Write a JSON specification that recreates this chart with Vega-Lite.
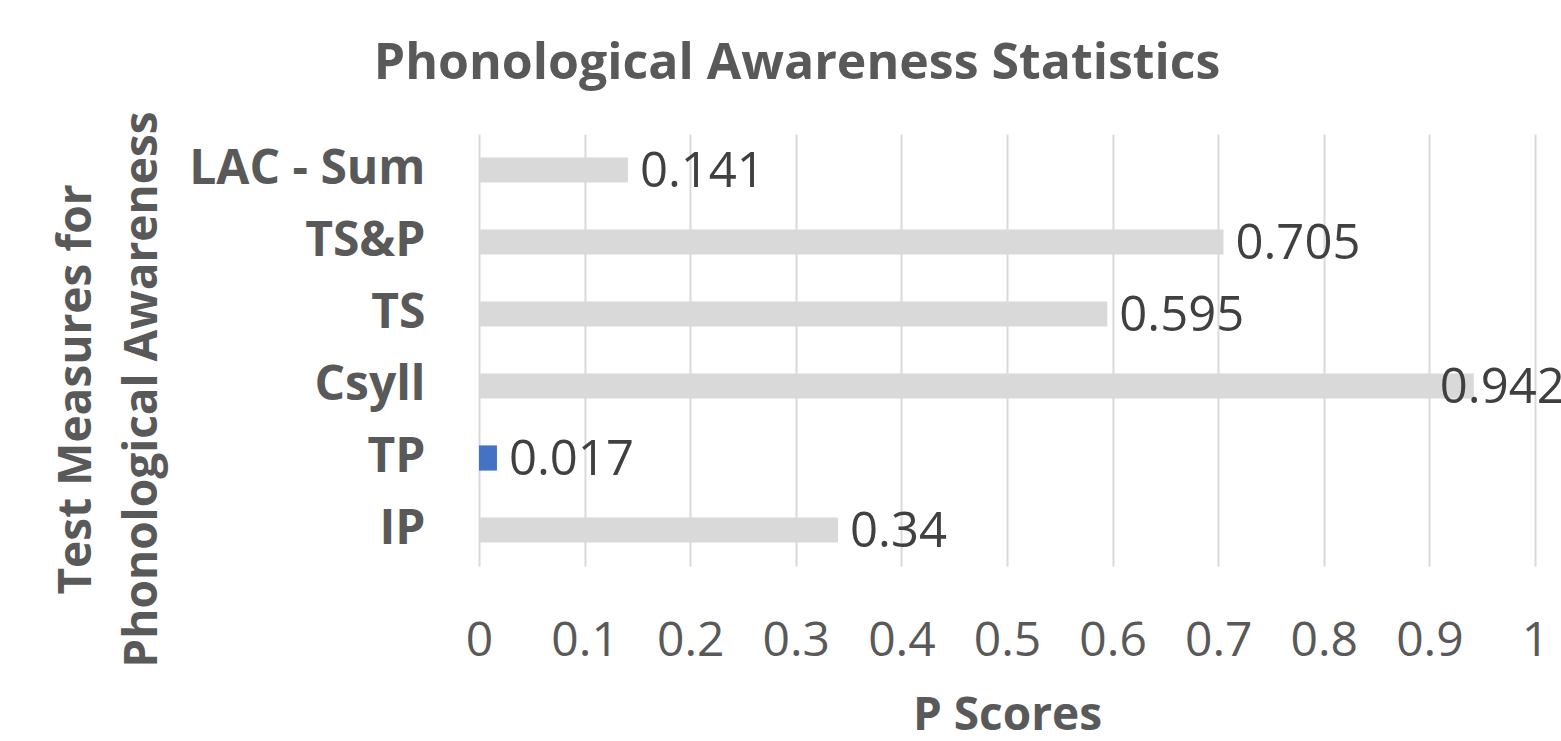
{
  "$schema": "https://vega.github.io/schema/vega-lite/v6.json",
  "autosize": "none",
  "width": 1056,
  "height": 432,
  "padding": {"left": 479, "top": 134, "right": 26, "bottom": 175},
  "background": "white",
  "title": {
    "text": "Phonological Awareness Statistics",
    "font": "Open Sans",
    "fontSize": 50,
    "fontWeight": "bold",
    "color": "#595959",
    "anchor": "middle",
    "frame": "group",
    "baseline": "alphabetic",
    "dx": -210,
    "dy": 70,
    "offset": 52
  },
  "data": {
    "values": [
      {"measure": "LAC - Sum", "p": 0.141},
      {"measure": "TS&P", "p": 0.705},
      {"measure": "TS", "p": 0.595},
      {"measure": "Csyll", "p": 0.942},
      {"measure": "TP", "p": 0.017},
      {"measure": "IP", "p": 0.34}
    ]
  },
  "encoding": {
    "y": {
      "field": "measure",
      "type": "nominal",
      "sort": null,
      "scale": {"paddingInner": 0.65, "paddingOuter": 0.325},
      "axis": {
        "title": ["Test Measures for", "Phonological Awareness"],
        "titleFont": "Open Sans",
        "titleFontSize": 46,
        "titleFontWeight": "bold",
        "titleColor": "#595959",
        "titleAngle": -90,
        "titleAlign": "center",
        "titleBaseline": "middle",
        "titleLineHeight": 66,
        "titleX": -403,
        "titleY": 255,
        "labelFont": "Open Sans",
        "labelFontSize": 48,
        "labelFontWeight": "bold",
        "labelColor": "#595959",
        "labelPadding": 54,
        "labelLimit": 0,
        "ticks": false,
        "tickSize": 0,
        "domain": false,
        "grid": false
      }
    },
    "x": {
      "field": "p",
      "type": "quantitative",
      "scale": {"domain": [0, 1], "nice": false},
      "axis": {
        "title": "P Scores",
        "titleFont": "Open Sans",
        "titleFontSize": 46,
        "titleFontWeight": "bold",
        "titleColor": "#595959",
        "titleBaseline": "alphabetic",
        "titleY": 163,
        "values": [0, 0.1, 0.2, 0.3, 0.4, 0.5, 0.6, 0.7, 0.8, 0.9, 1],
        "format": "~g",
        "labelFont": "Open Sans",
        "labelFontSize": 48,
        "labelColor": "#595959",
        "labelBaseline": "alphabetic",
        "labelPadding": 89,
        "labelFlush": false,
        "labelOverlap": false,
        "ticks": false,
        "tickSize": 0,
        "domain": false,
        "grid": true,
        "gridColor": "#d9d9d9",
        "gridWidth": 2
      }
    }
  },
  "layer": [
    {
      "mark": {"type": "bar"},
      "encoding": {
        "color": {
          "condition": {"test": "datum.measure === 'TP'", "value": "#4472c4"},
          "value": "#d9d9d9"
        }
      }
    },
    {
      "transform": [{"filter": "datum.p < 0.9"}],
      "mark": {
        "type": "text",
        "align": "left",
        "baseline": "middle",
        "dx": 12,
        "dy": 2,
        "font": "Open Sans",
        "fontSize": 49,
        "color": "#404040"
      },
      "encoding": {
        "text": {"field": "p", "type": "quantitative", "format": "~g"}
      }
    },
    {
      "transform": [{"filter": "datum.p >= 0.9"}],
      "mark": {
        "type": "text",
        "align": "left",
        "baseline": "middle",
        "dx": -34,
        "dy": 2,
        "font": "Open Sans",
        "fontSize": 49,
        "color": "#404040"
      },
      "encoding": {
        "text": {"field": "p", "type": "quantitative", "format": "~g"}
      }
    }
  ],
  "config": {"view": {"stroke": null}}
}
